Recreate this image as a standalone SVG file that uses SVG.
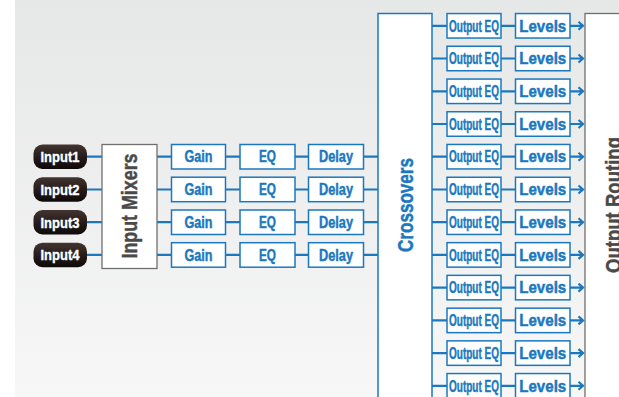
<svg xmlns="http://www.w3.org/2000/svg" width="619" height="397" viewBox="0 0 619 397">
<defs>
<linearGradient id="bg" x1="0" y1="0" x2="0" y2="1">
<stop offset="0" stop-color="#e6e7e7"/>
<stop offset="1" stop-color="#f7f7f7"/>
</linearGradient>
<linearGradient id="pill" x1="0" y1="0" x2="0" y2="1">
<stop offset="0" stop-color="#433530"/>
<stop offset="0.5" stop-color="#261c1a"/>
<stop offset="1" stop-color="#0e0a09"/>
</linearGradient>
<g id="oeq">
<rect class="bx" x="447" y="-12.25" width="54" height="24.5"/>
<text class="bt" x="474" y="5.7" font-size="16" textLength="50" lengthAdjust="spacingAndGlyphs">Output EQ</text>
</g>
<g id="lev">
<rect class="bx" x="515.5" y="-12.25" width="54.5" height="24.5"/>
<text class="bt" x="542.75" y="5.7" font-size="16" textLength="47" lengthAdjust="spacingAndGlyphs">Levels</text>
</g>
</defs>
<style>
.bx{fill:#ffffff;stroke:#1b78bf;stroke-width:1.5}
.gx{fill:#ffffff;stroke:#6f6f6f;stroke-width:1.3}
.bt{fill:#1b78bf;stroke:#1b78bf;stroke-width:0.45;font-family:"Liberation Sans",Arial,sans-serif;font-weight:bold;text-anchor:middle}
.wt{fill:#ffffff;stroke:#ffffff;stroke-width:0.35;font-family:"Liberation Sans",Arial,sans-serif;font-weight:bold;text-anchor:middle}
.dt{fill:#4a4a4a;stroke:#4a4a4a;stroke-width:0.45;font-family:"Liberation Sans",Arial,sans-serif;font-weight:bold;text-anchor:middle}
.ln{fill:none;stroke:#1b78bf;stroke-width:2.2}
</style>
<rect x="0" y="0" width="619" height="397" fill="#ffffff"/>
<rect x="15" y="0" width="604" height="397" fill="url(#bg)"/>

<g id="connectors">
<path class="ln" d="M87 156.7H102M87 189.5H102M87 222.2H102M87 254.9H102"/>
<path class="ln" d="M157 156.7H171.5M157 189.5H171.5M157 222.2H171.5M157 254.9H171.5"/>
<path class="ln" d="M225.5 156.7H240M225.5 189.5H240M225.5 222.2H240M225.5 254.9H240"/>
<path class="ln" d="M295 156.7H308.5M295 189.5H308.5M295 222.2H308.5M295 254.9H308.5"/>
<path class="ln" d="M363.5 156.7H378M363.5 189.5H378M363.5 222.2H378M363.5 254.9H378"/>
<g id="outlines">
<path class="ln" d="M432 25.8H447M501 25.8H515.5M570 25.8H583M578.5 21.8L583 25.8L578.5 29.8"/>
<path class="ln" d="M432 58.5H447M501 58.5H515.5M570 58.5H583M578.5 54.5L583 58.5L578.5 62.5"/>
<path class="ln" d="M432 91.3H447M501 91.3H515.5M570 91.3H583M578.5 87.3L583 91.3L578.5 95.3"/>
<path class="ln" d="M432 124H447M501 124H515.5M570 124H583M578.5 120L583 124L578.5 128"/>
<path class="ln" d="M432 156.7H447M501 156.7H515.5M570 156.7H583M578.5 152.7L583 156.7L578.5 160.7"/>
<path class="ln" d="M432 189.5H447M501 189.5H515.5M570 189.5H583M578.5 185.5L583 189.5L578.5 193.5"/>
<path class="ln" d="M432 222.2H447M501 222.2H515.5M570 222.2H583M578.5 218.2L583 222.2L578.5 226.2"/>
<path class="ln" d="M432 254.9H447M501 254.9H515.5M570 254.9H583M578.5 250.9L583 254.9L578.5 258.9"/>
<path class="ln" d="M432 287.6H447M501 287.6H515.5M570 287.6H583M578.5 283.6L583 287.6L578.5 291.6"/>
<path class="ln" d="M432 320.4H447M501 320.4H515.5M570 320.4H583M578.5 316.4L583 320.4L578.5 324.4"/>
<path class="ln" d="M432 353.1H447M501 353.1H515.5M570 353.1H583M578.5 349.1L583 353.1L578.5 357.1"/>
<path class="ln" d="M432 385.8H447M501 385.8H515.5M570 385.8H583M578.5 381.8L583 385.8L578.5 389.8"/>
</g>
</g>

<g id="input1"><rect x="33.5" y="144.5" width="53.5" height="24.5" rx="9" fill="url(#pill)"/><text class="wt" x="60" y="162" font-size="15" textLength="39" lengthAdjust="spacingAndGlyphs">Input1</text></g>
<g id="input2"><rect x="33.5" y="177.2" width="53.5" height="24.5" rx="9" fill="url(#pill)"/><text class="wt" x="60" y="194.8" font-size="15" textLength="39" lengthAdjust="spacingAndGlyphs">Input2</text></g>
<g id="input3"><rect x="33.5" y="210" width="53.5" height="24.5" rx="9" fill="url(#pill)"/><text class="wt" x="60" y="227.5" font-size="15" textLength="39" lengthAdjust="spacingAndGlyphs">Input3</text></g>
<g id="input4"><rect x="33.5" y="242.7" width="53.5" height="24.5" rx="9" fill="url(#pill)"/><text class="wt" x="60" y="260.2" font-size="15" textLength="39" lengthAdjust="spacingAndGlyphs">Input4</text></g>

<g id="input-mixers"><rect class="gx" x="102" y="144.5" width="55" height="124"/><text class="dt" transform="translate(136.5 206) rotate(-90)" font-size="22" textLength="105" lengthAdjust="spacingAndGlyphs">Input Mixers</text></g>

<g id="gain1"><rect class="bx" x="171.5" y="144.5" width="54" height="24.5"/><text class="bt" x="198.5" y="162.4" font-size="16" textLength="28" lengthAdjust="spacingAndGlyphs">Gain</text></g>
<g id="gain2"><rect class="bx" x="171.5" y="177.2" width="54" height="24.5"/><text class="bt" x="198.5" y="195.2" font-size="16" textLength="28" lengthAdjust="spacingAndGlyphs">Gain</text></g>
<g id="gain3"><rect class="bx" x="171.5" y="210" width="54" height="24.5"/><text class="bt" x="198.5" y="227.9" font-size="16" textLength="28" lengthAdjust="spacingAndGlyphs">Gain</text></g>
<g id="gain4"><rect class="bx" x="171.5" y="242.7" width="54" height="24.5"/><text class="bt" x="198.5" y="260.6" font-size="16" textLength="28" lengthAdjust="spacingAndGlyphs">Gain</text></g>

<g id="eq1"><rect class="bx" x="240" y="144.5" width="55" height="24.5"/><text class="bt" x="267.5" y="162.4" font-size="16" textLength="17" lengthAdjust="spacingAndGlyphs">EQ</text></g>
<g id="eq2"><rect class="bx" x="240" y="177.2" width="55" height="24.5"/><text class="bt" x="267.5" y="195.2" font-size="16" textLength="17" lengthAdjust="spacingAndGlyphs">EQ</text></g>
<g id="eq3"><rect class="bx" x="240" y="210" width="55" height="24.5"/><text class="bt" x="267.5" y="227.9" font-size="16" textLength="17" lengthAdjust="spacingAndGlyphs">EQ</text></g>
<g id="eq4"><rect class="bx" x="240" y="242.7" width="55" height="24.5"/><text class="bt" x="267.5" y="260.6" font-size="16" textLength="17" lengthAdjust="spacingAndGlyphs">EQ</text></g>

<g id="delay1"><rect class="bx" x="308.5" y="144.5" width="55" height="24.5"/><text class="bt" x="336" y="162.4" font-size="16" textLength="34" lengthAdjust="spacingAndGlyphs">Delay</text></g>
<g id="delay2"><rect class="bx" x="308.5" y="177.2" width="55" height="24.5"/><text class="bt" x="336" y="195.2" font-size="16" textLength="34" lengthAdjust="spacingAndGlyphs">Delay</text></g>
<g id="delay3"><rect class="bx" x="308.5" y="210" width="55" height="24.5"/><text class="bt" x="336" y="227.9" font-size="16" textLength="34" lengthAdjust="spacingAndGlyphs">Delay</text></g>
<g id="delay4"><rect class="bx" x="308.5" y="242.7" width="55" height="24.5"/><text class="bt" x="336" y="260.6" font-size="16" textLength="34" lengthAdjust="spacingAndGlyphs">Delay</text></g>

<g id="crossovers"><rect class="bx" x="378" y="13.5" width="54" height="400"/><text class="bt" transform="translate(413 205) rotate(-90)" font-size="22" textLength="94" lengthAdjust="spacingAndGlyphs">Crossovers</text></g>

<g id="output-eq">
<use href="#oeq" y="25.8"/><use href="#oeq" y="58.5"/><use href="#oeq" y="91.3"/><use href="#oeq" y="124"/>
<use href="#oeq" y="156.7"/><use href="#oeq" y="189.5"/><use href="#oeq" y="222.2"/><use href="#oeq" y="254.9"/>
<use href="#oeq" y="287.6"/><use href="#oeq" y="320.4"/><use href="#oeq" y="353.1"/><use href="#oeq" y="385.8"/>
</g>
<g id="levels">
<use href="#lev" y="25.8"/><use href="#lev" y="58.5"/><use href="#lev" y="91.3"/><use href="#lev" y="124"/>
<use href="#lev" y="156.7"/><use href="#lev" y="189.5"/><use href="#lev" y="222.2"/><use href="#lev" y="254.9"/>
<use href="#lev" y="287.6"/><use href="#lev" y="320.4"/><use href="#lev" y="353.1"/><use href="#lev" y="385.8"/>
</g>

<g id="output-routing"><rect class="gx" x="585" y="13.5" width="50" height="400"/><text class="dt" transform="translate(621 205) rotate(-90)" font-size="22" textLength="136" lengthAdjust="spacingAndGlyphs">Output Routing</text></g>
</svg>
